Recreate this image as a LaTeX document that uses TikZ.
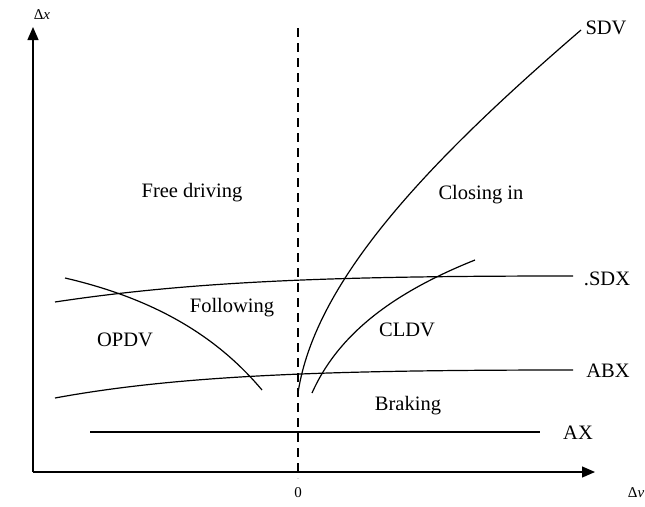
\documentclass[tikz,border=0pt]{standalone}
\usepackage{fontspec}
\setmainfont{Liberation Serif}
\usetikzlibrary{arrows.meta}
\begin{document}
\begin{tikzpicture}[x=1pt,y=-1pt,
  lbl/.style={font=\fontsize{20.5}{24}\selectfont, inner sep=0pt},
  axlbl/.style={font=\fontsize{15}{18}\selectfont, inner sep=0pt},
  curve/.style={line width=1.2pt},
  axis/.style={line width=1.3pt, -{Triangle[length=13pt,width=11pt]}}]
\useasboundingbox (0,0) rectangle (645,506);
% axes
\coordinate (O) at (33,472);
\coordinate (ytip) at (33,27);
\coordinate (xtip) at (595,472);
\draw[axis] (O) -- (ytip);
\draw[axis] (O) -- (xtip);
\node[axlbl] (dx) at (42,15) {Δ\textit{x}};
\node[axlbl] (dv) at (636,493) {Δ\textit{v}};
\node[axlbl] (zero) at (298,493) {0};
% dashed zero line
\coordinate (d1) at (298,28);
\coordinate (d2) at (298,478);
\draw[line width=1.2pt, dash pattern=on 9pt off 6pt] (d1) -- (d2);
% SDX
\coordinate (sdx0) at (55,302);
\coordinate (sdx1) at (573,276);
\draw[curve] (sdx0) .. controls (200,280) and (350,276) .. (sdx1);
\node[lbl] (SDX) at (607,279) {.SDX};
% ABX
\coordinate (abx0) at (55,398);
\coordinate (abx1) at (573,370);
\draw[curve] (abx0) .. controls (180,375) and (330,370) .. (abx1);
\node[lbl] (ABX) at (608,371) {ABX};
% AX
\coordinate (ax0) at (90,432);
\coordinate (ax1) at (540,432);
\draw[curve] (ax0) -- (ax1);
\node[lbl] (AX) at (578,433) {AX};
% OPDV curve
\coordinate (op0) at (65,278);
\coordinate (op1) at (262,390);
\draw[curve] (op0) .. controls (160,300) and (220,340) .. (op1);
% CLDV curve
\coordinate (cl0) at (312,393);
\coordinate (cl1) at (475,260);
\draw[curve] (cl0) .. controls (340,330) and (400,290) .. (cl1);
% SDV curve
\coordinate (sd0) at (298,393);
\coordinate (sd1) at (581,30);
\draw[curve] (sd0) .. controls (315,280) and (430,160) .. (sd1);
\node[lbl] (SDV) at (606,28) {SDV};
% region labels
\node[lbl] (free) at (192,193) {Free driving};
\node[lbl] (closing) at (481,195) {Closing in};
\node[lbl] (follow) at (232,308) {Following};
\node[lbl] (opdv) at (125,340) {OPDV};
\node[lbl] (cldv) at (407,330) {CLDV};
\node[lbl] (brake) at (408,406) {Braking};
\end{tikzpicture}
\end{document}
